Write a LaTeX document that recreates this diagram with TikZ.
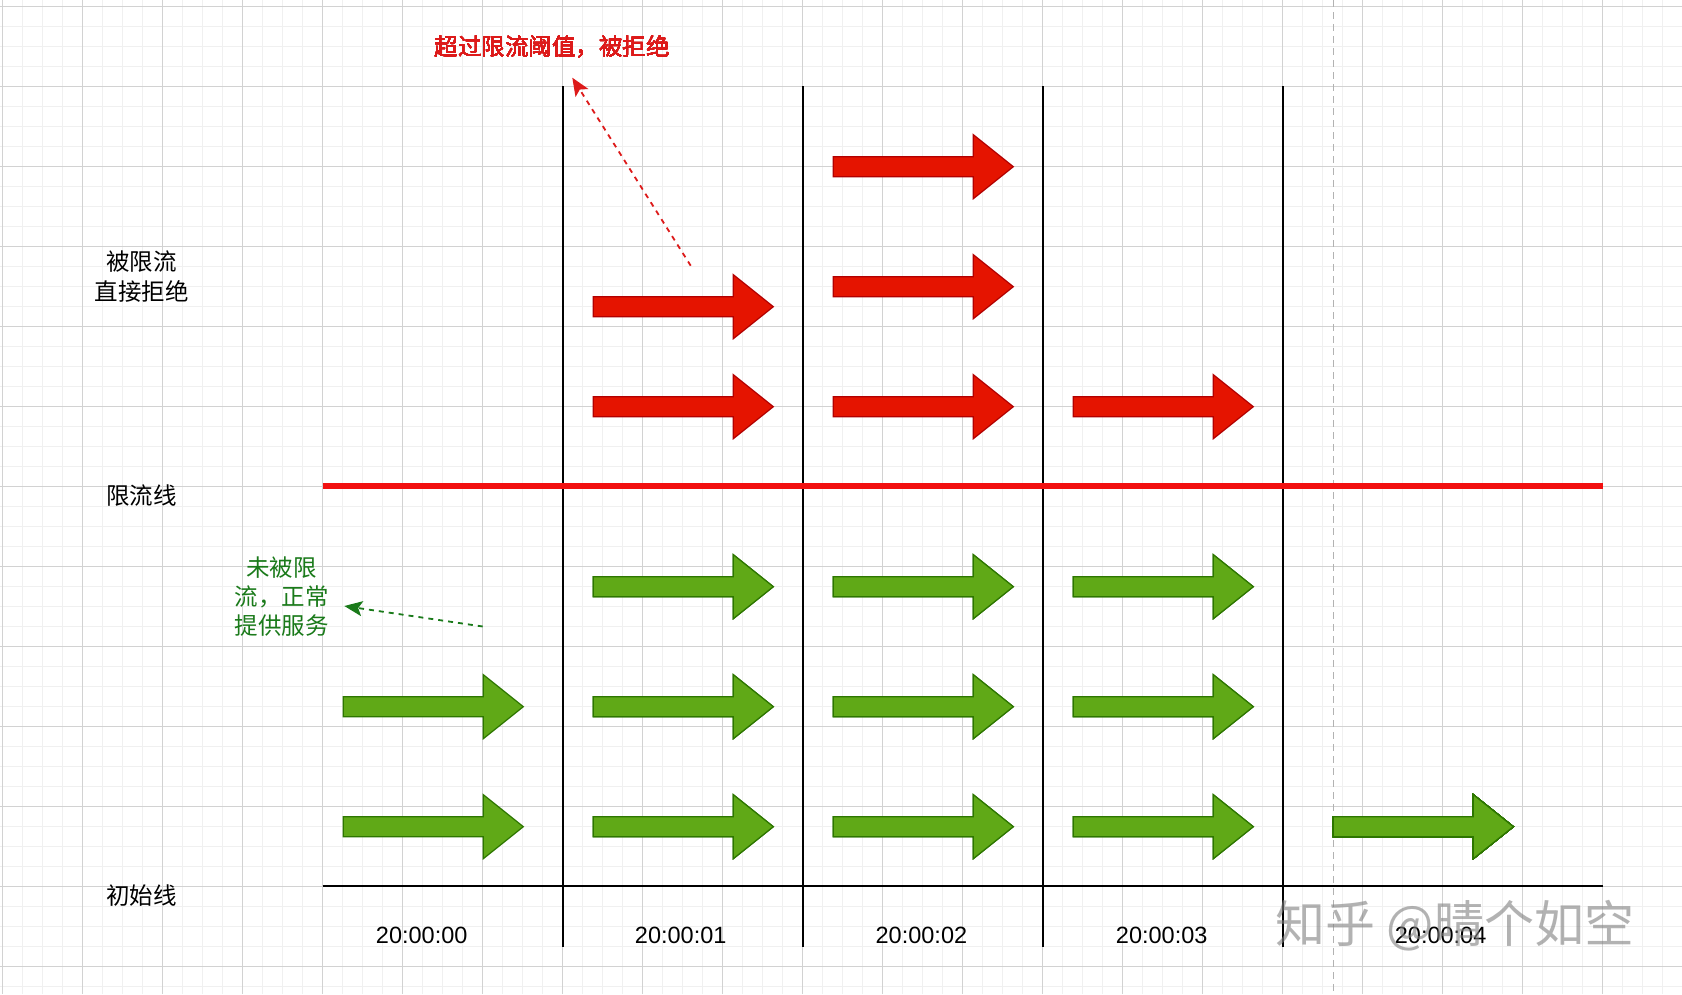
\documentclass[tikz,border=0pt]{standalone}
\usepackage{fontspec}
\setmainfont{Noto Sans CJK SC}
\newfontfamily\latinsans{Liberation Sans}
\usetikzlibrary{arrows.meta}
\definecolor{redfill}{HTML}{E51400}
\definecolor{redline}{HTML}{B20000}
\definecolor{greenfill}{HTML}{60A917}
\definecolor{greenline}{HTML}{2D7600}
\definecolor{gridminor}{HTML}{F0F0F0}
\definecolor{gridmajor}{HTML}{D2D2D2}
\definecolor{limitred}{HTML}{F21010}
\definecolor{notered}{HTML}{DD1A1A}
\definecolor{notegreen}{HTML}{1A7A1A}
\newcommand\barrow[3]{\draw[#3] (#1,#2) ++(0,-10) -- ++(140,0) -- ++(0,-22) -- ++(40,32) -- ++(-40,32) -- ++(0,-22) -- ++(-140,0) -- cycle;}
\begin{document}
\begin{tikzpicture}[x=1pt,y=-1pt,
  redarrow/.style={fill=redfill,draw=redline,line width=1.2pt,line join=miter},
  greenarrow/.style={fill=greenfill,draw=greenline,line width=1.2pt,line join=miter},
  cn/.style={font=\fontsize{23.5}{30}\selectfont,align=center,inner sep=0pt},
  tl/.style={font=\latinsans\fontsize{23.5}{28}\selectfont,inner sep=0pt},
  vline/.style={line width=2.2pt,black},
  note/.style={line width=1.8pt,dash pattern=on 5pt off 5pt}]
\useasboundingbox (0,0) rectangle (1682,994);
\fill[white] (0,0) rectangle (1682,994);
% grid
\foreach \i in {0,...,84} \draw[gridminor,line width=1pt] ({2.7+20*\i},0) -- ({2.7+20*\i},994);
\foreach \i in {0,...,49} \draw[gridminor,line width=1pt] (0,{6+20*\i}) -- (1682,{6+20*\i});
\foreach \i in {0,...,20} \draw[gridmajor,line width=1pt] ({2.7+80*\i},0) -- ({2.7+80*\i},994);
\foreach \i in {0,...,12} \draw[gridmajor,line width=1pt] (0,{6+80*\i}) -- (1682,{6+80*\i});
% dashed gray vertical
\draw[gray!60,line width=1.2pt,dash pattern=on 7pt off 5pt] (1333.3,0) -- (1333.3,994);
% vertical separators
\foreach \x in {562.7,802.7,1042.7,1282.7} \draw[vline] (\x,86) -- (\x,946.7);
% axis and limit line
\draw[line width=2.5pt,black] (322.7,886) -- (1602.7,886);
\draw[line width=6pt,limitred] (322.7,486) -- (1602.7,486);
% red arrows
\barrow{593.3}{306.7}{redarrow}
\barrow{593.3}{406.7}{redarrow}
\barrow{833.3}{166.7}{redarrow}
\barrow{833.3}{286.7}{redarrow}
\barrow{833.3}{406.7}{redarrow}
\barrow{1073.3}{406.7}{redarrow}
% green arrows
\foreach \y in {706.7,826.7} \barrow{343.3}{\y}{greenarrow}
\foreach \x in {593.3,833.3,1073.3} \foreach \y in {586.7,706.7,826.7} \barrow{\x}{\y}{greenarrow}
\barrow{1333.3}{826.7}{greenarrow}
% texts
\node[cn,text=notered] (over) at (552,46.7) {超过限流阈值，被拒绝};
\node[cn] (rej) at (141.7,276.7) {被限流\\直接拒绝};
\node[cn] (lim) at (141.7,495.6) {限流线};
\node[cn] (init) at (141.7,895.7) {初始线};
\node[cn,text=notegreen,font=\fontsize{23.5}{29}\selectfont] (ok) at (281.7,597) {未被限\\流，正常\\提供服务};
\node[tl] (t0) at (421.7,935.7) {20:00:00};
\node[tl] (t1) at (680.7,935.7) {20:00:01};
\node[tl] (t2) at (921.4,935.7) {20:00:02};
\node[tl] (t3) at (1161.7,935.7) {20:00:03};
\node[tl] (t4) at (1440.6,935.7) {20:00:04};
% annotation arrows
\coordinate (ra) at (690.7,265.7);
\coordinate (rb) at (572.3,77.7);
\draw[note,notered,-{Stealth[length=18pt,width=15pt,inset=4pt]}] (ra) -- (rb);
\coordinate (ga) at (482.7,626.5);
\coordinate (gb) at (344.3,606);
\draw[note,notegreen,-{Stealth[length=18pt,width=15pt,inset=4pt]}] (ga) -- (gb);
% watermark
\node[text=gray,opacity=0.6,inner sep=0pt,font=\fontsize{50}{50}\selectfont] (wm) at (1455,926) {知乎 @晴个如空};
\end{tikzpicture}
\end{document}
